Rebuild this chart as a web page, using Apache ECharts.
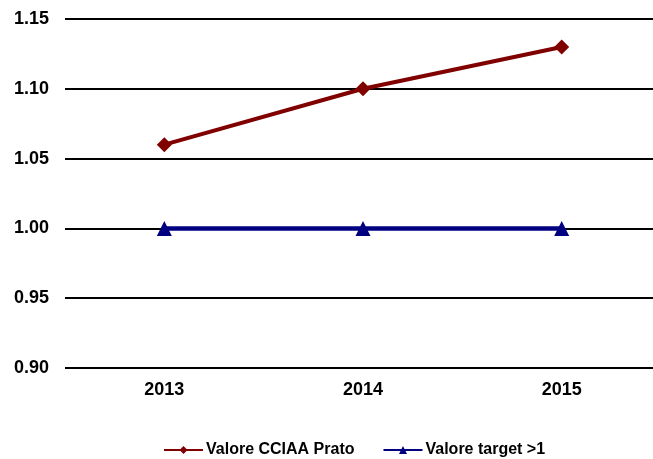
<!DOCTYPE html>
<html>
<head>
<meta charset="utf-8">
<script src="https://cdn.jsdelivr.net/npm/echarts@6/dist/echarts.min.js"></script>
<style>
  html, body { margin: 0; padding: 0; background: #fff; }
  #chart { width: 653px; height: 459px; }
</style>
</head>
<body>
<div id="chart"></div>
<script>
// Years on the category axis
const years = ['2013', '2014', '2015'];
// Indicator measured for CCIAA Prato
const valoreCciaa = [1.06, 1.10, 1.13];
// Target threshold
const valoreTarget = [1.00, 1.00, 1.00];

const chart = echarts.init(document.getElementById('chart'), null, { renderer: 'canvas' });
const font = 'Arial, "Liberation Sans", sans-serif';

chart.setOption({
  animation: false,
  backgroundColor: '#ffffff',
  // plot area runs past the right edge of the canvas
  grid: { left: 65, width: 596, top: 19, height: 349, containLabel: false, outerBoundsMode: 'none' },
  xAxis: {
    type: 'category',
    data: years,
    boundaryGap: true,
    axisLine: { show: false },
    axisTick: { show: false },
    axisLabel: { color: '#000', fontFamily: font, fontWeight: 'bold', fontSize: 18, margin: 13 }
  },
  yAxis: {
    type: 'value',
    min: 0.90,
    max: 1.15,
    interval: 0.05,
    axisLine: { show: false },
    axisTick: { show: false },
    splitLine: { lineStyle: { color: '#000', width: 2 } },
    axisLabel: {
      color: '#000', fontFamily: font, fontWeight: 'bold', fontSize: 18, margin: 16,
      formatter: v => v.toFixed(2)
    }
  },
  legend: {
    top: 437,
    left: 158,
    itemWidth: 39,
    itemHeight: 10,
    itemGap: 28,
    textStyle: { color: '#000', fontFamily: font, fontWeight: 'bold', fontSize: 16, padding: [0, 0, 0, -2] },
    data: ['Valore CCIAA Prato', 'Valore target >1']
  },
  series: [
    {
      name: 'Valore CCIAA Prato',
      type: 'line',
      data: valoreCciaa,
      symbol: 'diamond',
      symbolSize: 15,
      color: '#800000',
      lineStyle: { color: '#800000', width: 4 },
      itemStyle: { color: '#800000' }
    },
    {
      name: 'Valore target >1',
      type: 'line',
      data: valoreTarget,
      symbol: 'triangle',
      symbolSize: 15,
      color: '#000080',
      lineStyle: { color: '#000080', width: 4.5 },
      itemStyle: { color: '#000080' }
    }
  ]
});
</script>
</body>
</html>
